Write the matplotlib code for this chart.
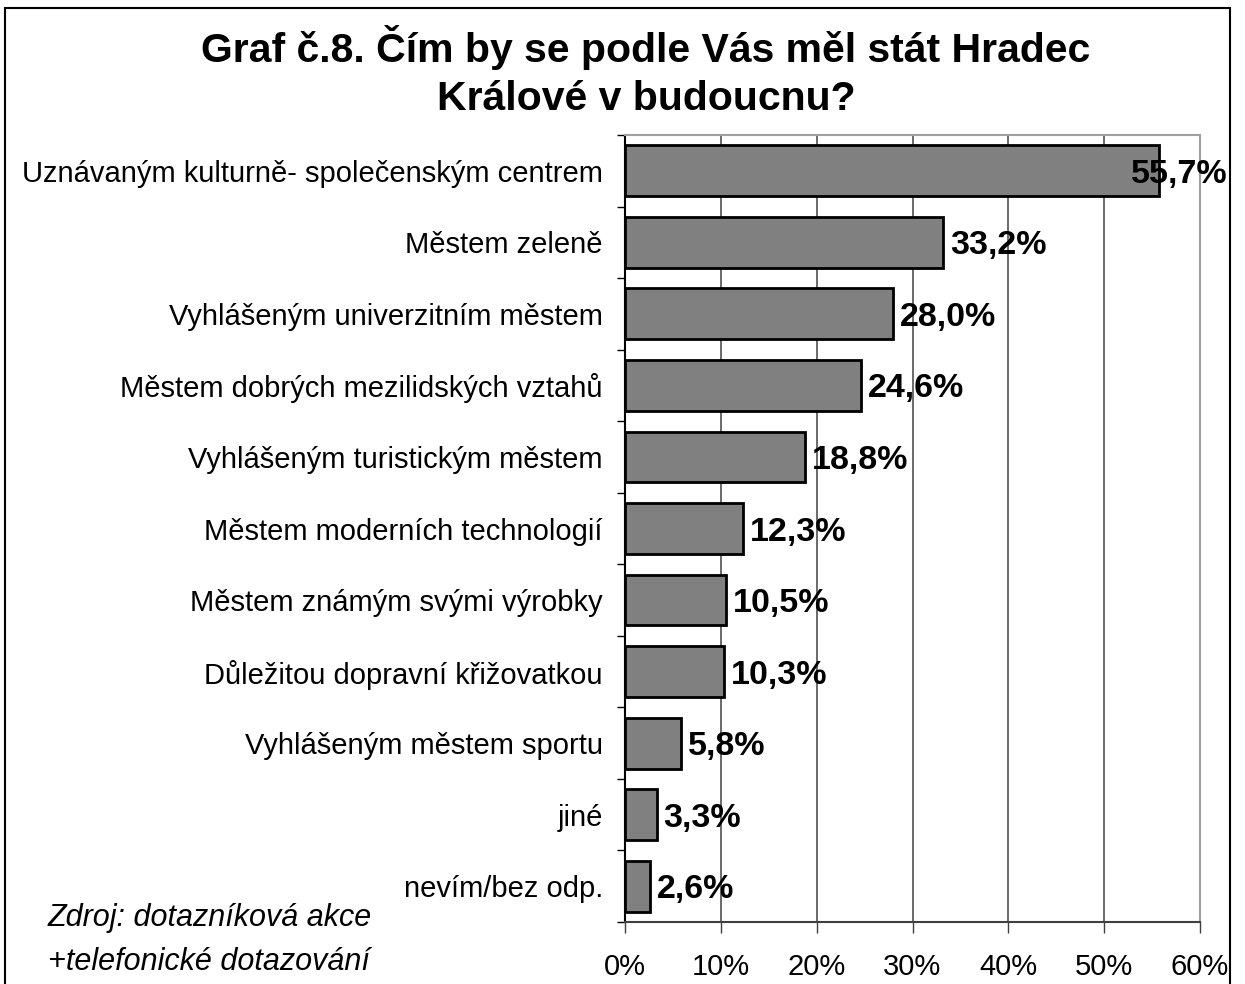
import matplotlib
matplotlib.use("Agg")
import matplotlib.pyplot as plt
import numpy as np
from matplotlib.patches import Rectangle

plt.rcParams['font.family'] = ['Liberation Sans', 'DejaVu Sans']

categories = [
    "Uznávaným kulturně- společenským centrem",
    "Městem zeleně",
    "Vyhlášeným univerzitním městem",
    "Městem dobrých mezilidských vztahů",
    "Vyhlášeným turistickým městem",
    "Městem moderních technologií",
    "Městem známým svými výrobky",
    "Důležitou dopravní křižovatkou",
    "Vyhlášeným městem sportu",
    "jiné",
    "nevím/bez odp.",
]
values = [55.7, 33.2, 28.0, 24.6, 18.8, 12.3, 10.5, 10.3, 5.8, 3.3, 2.6]
value_labels = ["55,7%", "33,2%", "28,0%", "24,6%", "18,8%", "12,3%",
                "10,5%", "10,3%", "5,8%", "3,3%", "2,6%"]
xticks = [0, 10, 20, 30, 40, 50, 60]

fig = plt.figure(figsize=(12.45, 9.84), dpi=100)
ax = fig.add_axes([625 / 1245, 1 - 922 / 984, 575 / 1245, 787 / 984])

y = np.arange(len(categories))
ax.barh(y, values, height=0.71, color='#808080', edgecolor='black',
        linewidth=2, zorder=3)
ax.set_ylim(len(categories) - 0.5, -0.5)
ax.set_xlim(0, 60)

ax.set_xticks(xticks)
ax.set_xticklabels([f"{t}%" for t in xticks], fontsize=21)
ax.tick_params(axis='x', direction='out', length=8, width=1, pad=14,
               color='#404040')
ax.set_yticks(y)
ax.set_yticklabels(categories, fontsize=21)
ax.tick_params(axis='y', which='major', length=0, pad=16)
ax.set_yticks(np.arange(len(categories) + 1) - 0.5, minor=True)
ax.tick_params(axis='y', which='minor', direction='out', length=6, width=1)

ax.grid(axis='x', color='#505050', linewidth=1.2, zorder=0)
for side in ['top', 'right']:
    ax.spines[side].set_color('#a0a0a0')
    ax.spines[side].set_linewidth(1.5)
ax.spines['left'].set_color('black')
ax.spines['left'].set_linewidth(1.5)
ax.spines['bottom'].set_color('#404040')
ax.spines['bottom'].set_linewidth(1.5)

for i, (v, lab) in enumerate(zip(values, value_labels)):
    if v > 50:
        # label does not fit to the right, push it back inside the frame
        xd, yd = ax.transData.transform((v, i + 0.05))
        fig.text(1228 / 1245, yd / fig.bbox.height, lab, ha='right', va='center',
                 fontsize=24.5, fontweight='bold', zorder=5)
    else:
        ax.annotate(lab, (v, i + 0.05), xytext=(5, 0), textcoords='offset points',
                    ha='left', va='center', fontsize=24.5, fontweight='bold',
                    zorder=5)

fig.text(646 / 1245, 1 - 48 / 984, "Graf č.8. Čím by se podle Vás měl stát Hradec",
         ha='center', va='center', fontsize=29.5, fontweight='bold')
fig.text(646 / 1245, 1 - 99 / 984, "Králové v budoucnu?",
         ha='center', va='center', fontsize=29.5, fontweight='bold')

fig.text(48 / 1245, 1 - 918 / 984, "Zdroj: dotazníková akce",
         ha='left', va='center', fontsize=22, style='italic')
fig.text(48 / 1245, 1 - 962 / 984, "+telefonické dotazování",
         ha='left', va='center', fontsize=22, style='italic')

fig.add_artist(Rectangle((5 / 1245, -0.05), (1230 - 5) / 1245, 1.05 - 8 / 984,
                         transform=fig.transFigure, fill=False,
                         edgecolor='black', linewidth=1.5))

fig.savefig("out.png", dpi=100)
